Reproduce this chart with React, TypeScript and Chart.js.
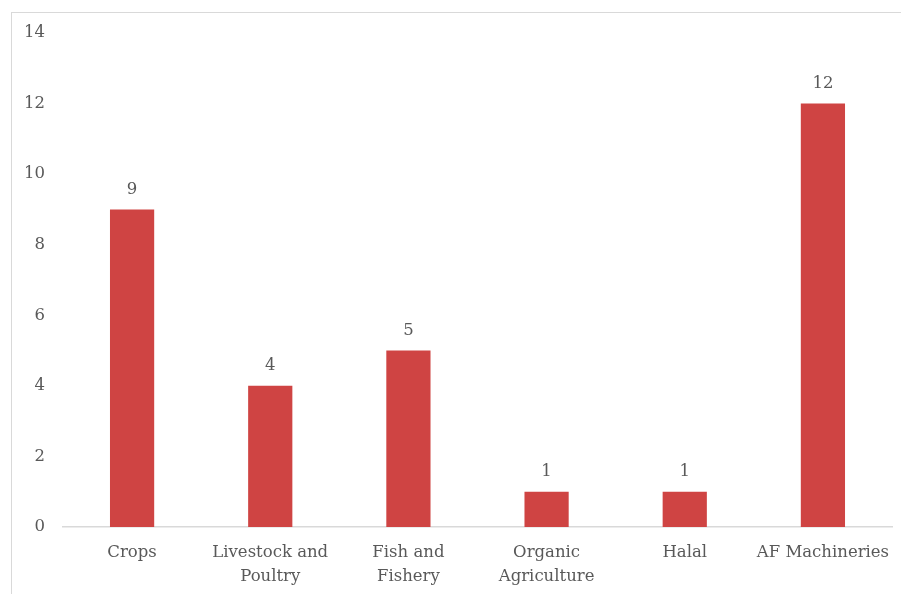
import React, { useEffect, useRef } from "react";
import { Chart, registerables } from "chart.js";

Chart.register(...registerables);

const categories: (string | string[])[] = [
  "Crops",
  ["Livestock and", "Poultry"],
  ["Fish and", "Fishery"],
  ["Organic", "Agriculture"],
  "Halal",
  "AF Machineries",
];
const values: number[] = [9, 4, 5, 1, 1, 12];
const yTicks: number[] = [0, 2, 4, 6, 8, 10, 12, 14];

const FONT = "'DejaVu Serif', serif";
const TEXT = "#595959";
const SIZE = 16.5;

const labelPlugin = {
  id: "barLabels",
  afterDatasetsDraw(chart: any) {
    const ctx = chart.ctx;
    const meta = chart.getDatasetMeta(0);
    ctx.save();
    ctx.fillStyle = TEXT;
    ctx.font = `${SIZE}px ${FONT}`;
    ctx.textAlign = "center";
    ctx.textBaseline = "middle";
    meta.data.forEach((bar: any, i: number) => {
      ctx.fillText(String(values[i]), bar.x, bar.y - 20);
    });
    ctx.restore();
  },
};

export default function App() {
  const ref = useRef<HTMLCanvasElement>(null);
  useEffect(() => {
    if (!ref.current) return;
    const chart = new Chart(ref.current, {
      type: "bar",
      data: {
        labels: categories,
        datasets: [
          {
            data: values,
            backgroundColor: "#cf4443",
            barPercentage: 0.32,
            categoryPercentage: 1,
          },
        ],
      },
      options: {
        animation: false,
        responsive: false,
        maintainAspectRatio: false,
        layout: { padding: { left: 20, top: 33, right: 9, bottom: 0 } },
        plugins: { legend: { display: false }, tooltip: { enabled: false } },
        scales: {
          x: {
            grid: { display: false, drawTicks: false },
            border: { display: true, color: "#d9d9d9", width: 1.5 },
            ticks: {
              color: TEXT,
              font: { family: FONT, size: SIZE, lineHeight: "24px" },
              padding: 14,
              maxRotation: 0,
              autoSkip: false,
            },
            afterFit: (s: any) => {
              s.height = 67;
              s.paddingLeft = 0;
              s.paddingRight = 0;
            },
          },
          y: {
            min: 0,
            max: 14,
            afterBuildTicks: (s: any) => {
              s.ticks = yTicks.map((v) => ({ value: v }));
            },
            grid: { display: false, drawTicks: false },
            border: { display: false },
            ticks: {
              color: TEXT,
              font: { family: FONT, size: SIZE },
              padding: 18,
            },
            afterFit: (s: any) => {
              s.width = 43;
            },
          },
        },
      },
      plugins: [labelPlugin],
    });
    return () => chart.destroy();
  }, []);
  return (
    <div style={{ position: "absolute", left: 0, top: 0, width: 901, height: 594, background: "#fff", overflow: "hidden" }}>
      <div
        style={{
          position: "absolute",
          left: 11,
          top: 12,
          width: 1000,
          height: 1000,
          borderLeft: "1.5px solid #d9d9d9",
          borderTop: "1.5px solid #d9d9d9",
        }}
      />
      <canvas ref={ref} width={901} height={594} style={{ position: "absolute", left: 0, top: 0 }} />
    </div>
  );
}
